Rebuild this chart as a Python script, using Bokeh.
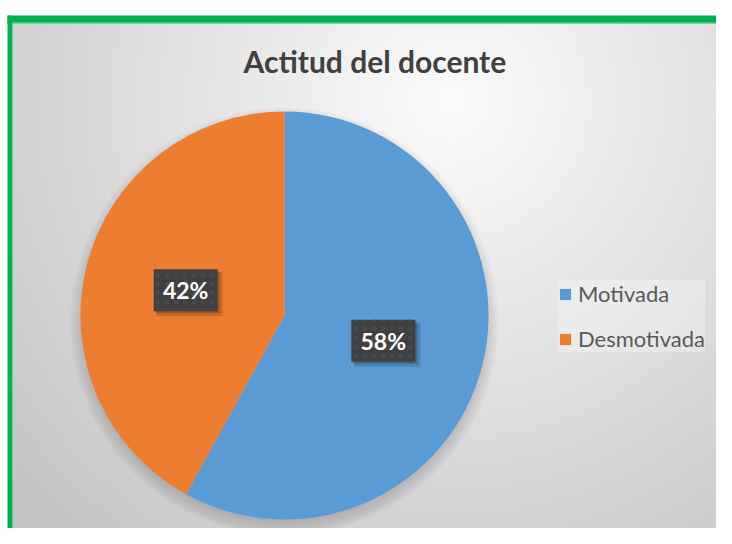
import numpy as np
from bokeh.plotting import figure
from bokeh.models import Range1d, ColumnDataSource
from bokeh.core.properties import value
from bokeh.embed import file_html
from bokeh.resources import INLINE

# ---- data ----
title_text = "Actitud del  docente"
categories = ["Motivada", "Desmotivada"]
percentages = [58, 42]
colors = ["#5B9BD5", "#ED7D31"]

W, H = 716, 528


def px(x):  # picture x -> data x
    return x


def py(y):  # picture y -> data y
    return H - y


p = figure(width=W, height=H, x_range=Range1d(0, W), y_range=Range1d(0, H),
           output_backend="svg", toolbar_location=None, min_border=0)
p.axis.visible = False
p.grid.visible = False
p.outline_line_color = None
p.background_fill_color = "white"
p.border_fill_color = "white"

# ---- gradient background ----
x0, x1 = px(12), W
y0, y1 = 0, py(23)
nx, ny = int(x1 - x0), int(y1 - y0)
xs = np.arange(nx) + x0 + 0.5
ys = H - (np.arange(ny) + y0 + 0.5)
XX, YY = np.meshgrid(xs, ys)
d = np.sqrt((XX - 450) ** 2 + (YY - 100) ** 2)
b = np.clip(252 - 0.095 * d, 195, 252).astype(np.uint32)
img = (255 << 24) | (b << 16) | (b << 8) | b
p.image_rgba(image=[img.astype(np.uint32)], x=x0, y=y0, dw=nx, dh=ny)

# ---- green frame ----
p.quad(left=px(7), right=W, bottom=py(23), top=py(15), fill_color="#00B050", line_color=None)
p.quad(left=px(7), right=px(12), bottom=0, top=py(15), fill_color="#00B050", line_color=None)
p.line(x=[px(12), W], y=[py(23) + 0.5, py(23) + 0.5], line_color="#7ED6A0", line_width=1)

# ---- pie ----
cx, cy, R = px(284), py(315), 204
for i in range(10):
    p.circle(x=cx, y=cy - 6, radius=R - 4 + i * 1.6, fill_color="black",
             fill_alpha=0.014, line_color=None)

fr = np.array(percentages, dtype=float) / sum(percentages)
ends = np.pi / 2 - 2 * np.pi * np.cumsum(fr)
starts = np.concatenate([[np.pi / 2], ends[:-1]])
src = ColumnDataSource(dict(cat=categories, start=starts, end=ends, color=colors))
p.wedge(x=cx, y=cy, radius=R, start_angle="start", end_angle="end", direction="clock",
        fill_color="color", line_color=None, legend_field="cat", source=src)

# ---- data labels ----
mids = (starts + ends) / 2
lx = cx + 0.5 * R * np.cos(mids)
ly = cy + 0.5 * R * np.sin(mids)
labels = [f"{v}%" for v in percentages]
lsrc = ColumnDataSource(dict(x=lx, y=ly, t=labels))
p.rect(x=lx + 4, y=ly - 4, width=66, height=44, fill_color="black", fill_alpha=0.15, line_color=None)
p.rect(x=lx + 2, y=ly - 2, width=64, height=42, fill_color="black", fill_alpha=0.2, line_color=None)
p.rect(x="x", y="y", width=64, height=42, fill_color="#404040", line_color=None,
       hatch_pattern="dot", hatch_color="#484848", hatch_scale=9, hatch_weight=1.0,
       source=lsrc)
p.text(x="x", y="y", text="t", text_color="white", text_font=value("Lato"),
       text_font_style="bold", text_font_size="23px", text_align="center",
       text_baseline="middle", source=lsrc)

# ---- title ----
p.text(x=[px(378)], y=[py(60)], text=[title_text], text_color="#404040",
       text_font=value("Lato"), text_font_style="bold", text_font_size="30px",
       text_align="center", text_baseline="middle")

# ---- legend ----
lg = p.legend[0]
lg.location = (px(558), py(352))
lg.orientation = "vertical"
lg.label_text_font = "Lato"
lg.label_text_font_size = "22px"
lg.label_text_color = "#595959"
lg.glyph_width = 14
lg.glyph_height = 14
lg.label_height = 26
lg.label_standoff = 6
lg.spacing = 18
lg.padding = 10
lg.margin = 0
lg.border_line_color = None
lg.background_fill_color = "white"
lg.background_fill_alpha = 0.3

open("out.html", "w").write(file_html(p, INLINE))
